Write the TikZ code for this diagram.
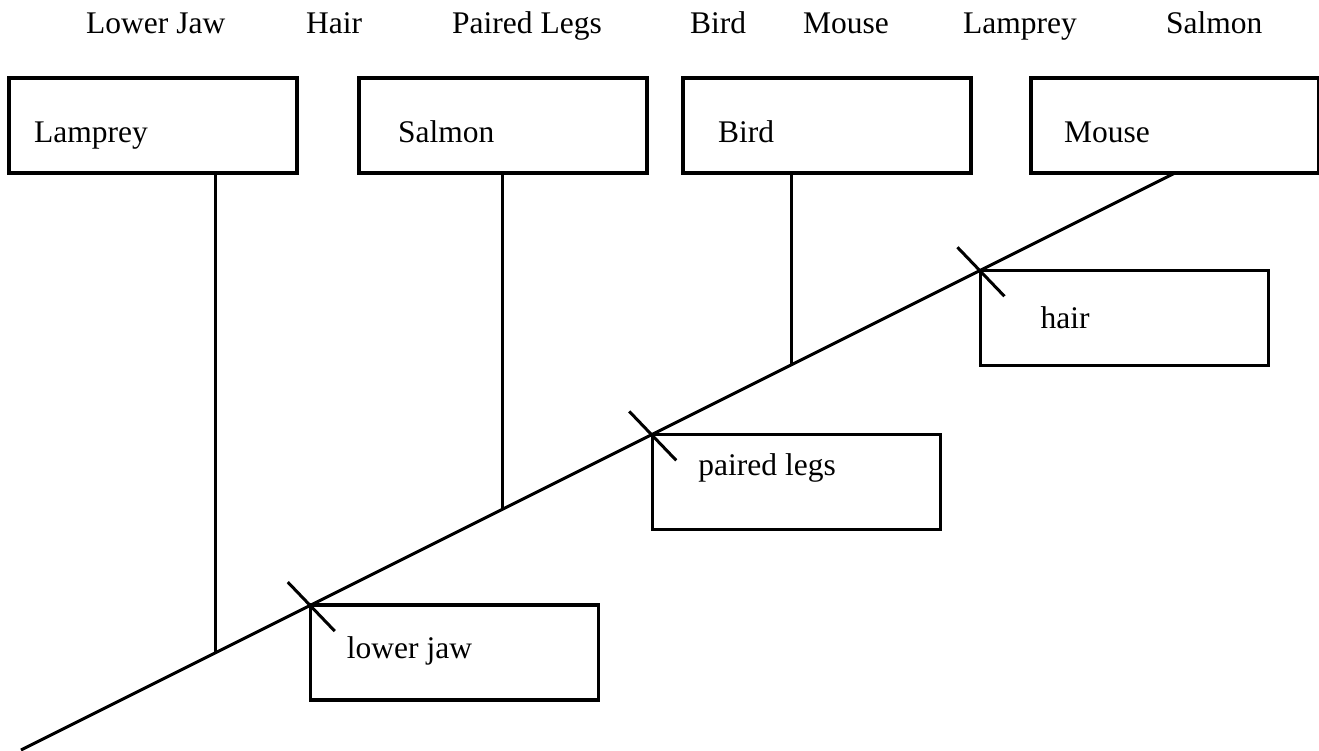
\documentclass[tikz,border=0pt]{standalone}
\usepackage{fontspec}
\setmainfont{Liberation Serif}
\usetikzlibrary{calc}
\begin{document}
\begin{tikzpicture}[x=1pt,y=-1pt,
  box/.style={draw, line width=3.3pt, rectangle, inner sep=0pt, outer sep=0pt,
              minimum width=288pt, minimum height=95pt, anchor=north west},
  lbl/.style={font=\fontsize{31.5}{36}\selectfont, inner sep=0pt, anchor=base west},
  branch/.style={line width=3pt},
  tickmark/.style={line width=3pt}]
\useasboundingbox (0,0) rectangle (1319,751);
% top character labels
\node[lbl] (hLJ) at (86,34) {Lower Jaw};
\node[lbl] (hHa) at (306,34) {Hair};
\node[lbl] (hPL) at (452,34) {Paired Legs};
\node[lbl] (hBi) at (690,34) {Bird};
\node[lbl] (hMo) at (803,34) {Mouse};
\node[lbl] (hLa) at (963,34) {Lamprey};
\node[lbl] (hSa) at (1166,34) {Salmon};
% taxon boxes
\node[box] (bLam) at (9,78) {};
\node[lbl] (tLam) at (34,143) {Lamprey};
\node[box] (bSal) at (359,78) {};
\node[lbl] (tSal) at (398,143) {Salmon};
\node[box] (bBir) at (683,78) {};
\node[lbl] (tBir) at (718,143) {Bird};
\node[box] (bMou) at (1031,78) {};
\node[lbl] (tMou) at (1064,143) {Mouse};
% main diagonal
\coordinate (root) at (21,750);
\draw[branch] (root) -- (bMou.south);
% junctions
\coordinate (jLam) at ($(root)!0.1682!(bMou.south)$);
\coordinate (jSal) at ($(root)!0.4170!(bMou.south)$);
\coordinate (jBir) at ($(root)!0.6675!(bMou.south)$);
\draw[branch] (jLam) -- (jLam |- bLam.south);
\draw[branch] (jSal) -- (jSal |- bSal.south);
\draw[branch] (jBir) -- (jBir |- bBir.south);
% character boxes
\coordinate (cLJ) at ($(root)!0.2511!(bMou.south)$);
\coordinate (cPL) at ($(root)!0.5470!(bMou.south)$);
\coordinate (cHa) at ($(root)!0.8314!(bMou.south)$);
\node[box] (bLJ) at (cLJ) {};
\node[lbl] (tLJ) at ($(bLJ.north west)+(36,53)$) {lower jaw};
\node[box] (bPL) at (cPL) {};
\node[lbl] (tPL) at ($(bPL.north west)+(46,41)$) {paired legs};
\node[box] (bHa) at (cHa) {};
\node[lbl] (tHa) at ($(bHa.north west)+(60,58)$) {hair};
% tick marks
\draw[tickmark] ($(cLJ)+(-23,-23)$) -- ($(cLJ)+(24,26)$);
\draw[tickmark] ($(cPL)+(-23,-23)$) -- ($(cPL)+(24,26)$);
\draw[tickmark] ($(cHa)+(-23,-23)$) -- ($(cHa)+(24,26)$);
\end{tikzpicture}
\end{document}
